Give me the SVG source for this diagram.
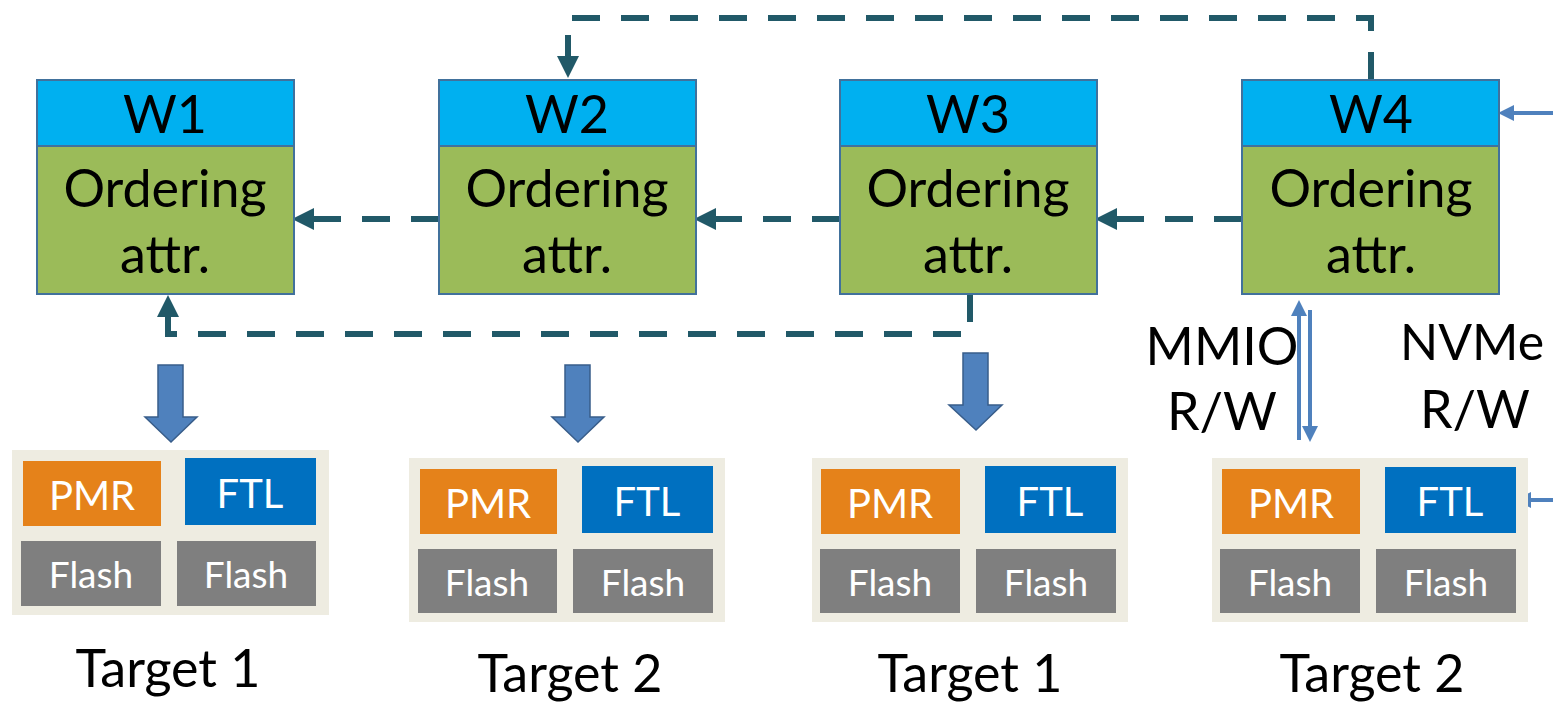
<svg xmlns="http://www.w3.org/2000/svg" width="1553" height="705" viewBox="0 0 1553 705">
<style>
text{font-family:Lato,"Open Sans","Liberation Sans",sans-serif;text-anchor:middle}
.hd{fill:#00B0F0;stroke:#41719C;stroke-width:2}
.bd{fill:#9BBB59;stroke:#41719C;stroke-width:2}
.wt{font-size:52px;fill:#000}
.bg{fill:#EEECE1}
.pmr{fill:#E5821A}
.ftl{fill:#0070C0}
.fl{fill:#7F7F7F}
.wl{fill:#fff;font-size:40px}
.fs{fill:#fff;font-size:37px}
.lbl{font-size:52px;fill:#000}
.dash{fill:none;stroke:#215968;stroke-width:6;stroke-dasharray:28 21}
.thin{fill:none;stroke:#4F81BD;stroke-width:4}
.blk{fill:#4F81BD;stroke:#385D8A;stroke-width:1.5}
</style>
<defs>
<marker id="ah" markerUnits="userSpaceOnUse" markerWidth="22" markerHeight="22" refX="0" refY="10" orient="auto" viewBox="0 0 20 20"><path d="M0,0 L20,10 L0,20 z" fill="#215968"/></marker>
<marker id="sa" markerUnits="userSpaceOnUse" markerWidth="16" markerHeight="16" refX="0" refY="7" orient="auto" viewBox="0 0 14 14"><path d="M0,0 L14,7 L0,14 z" fill="#4F81BD"/></marker>
</defs>
<g id="connectors">
<path class="dash" d="M439,219 H314" marker-end="url(#ah)"/>
<path class="dash" d="M840,219 H716" marker-end="url(#ah)"/>
<path class="dash" d="M1242,219 H1117" marker-end="url(#ah)"/>
<path class="dash" d="M1371,80 V18 H568 V56" marker-end="url(#ah)"/>
<path class="dash" d="M970,294 V334 H168 V317" marker-end="url(#ah)"/>
<path class="thin" d="M1299,440 V316" marker-end="url(#sa)"/>
<path class="thin" d="M1310,310 V426" marker-end="url(#sa)"/>
<path class="thin" d="M1553,113 H1514" marker-end="url(#sa)"/>
<path class="thin" d="M1553,500 H1531" marker-end="url(#sa)"/>
<path class="blk" d="M158,365 H183 V417 H197 L171,442 L145,417 H158 Z"/>
<path class="blk" d="M565,365 H590 V417 H604 L578,442 L552,417 H565 Z"/>
<path class="blk" d="M963,353 H988 V405 H1002 L976,430 L949,405 H963 Z"/>
</g>
<g id="W1">
<rect class="hd" x="37" y="80" width="257" height="66"/>
<rect class="bd" x="37" y="146" width="257" height="148"/>
<text class="wt" x="165" y="133">W1</text>
<text class="wt" x="165" y="207">Ordering</text>
<text class="wt" x="165" y="273">attr.</text>
</g>
<g id="W2">
<rect class="hd" x="439" y="80" width="257" height="66"/>
<rect class="bd" x="439" y="146" width="257" height="148"/>
<text class="wt" x="567" y="133">W2</text>
<text class="wt" x="567" y="207">Ordering</text>
<text class="wt" x="567" y="273">attr.</text>
</g>
<g id="W3">
<rect class="hd" x="840" y="80" width="257" height="66"/>
<rect class="bd" x="840" y="146" width="257" height="148"/>
<text class="wt" x="968" y="133">W3</text>
<text class="wt" x="968" y="207">Ordering</text>
<text class="wt" x="968" y="273">attr.</text>
</g>
<g id="W4">
<rect class="hd" x="1242" y="80" width="257" height="66"/>
<rect class="bd" x="1242" y="146" width="257" height="148"/>
<text class="wt" x="1371" y="133">W4</text>
<text class="wt" x="1371" y="207">Ordering</text>
<text class="wt" x="1371" y="273">attr.</text>
</g>
<g id="T1">
<rect class="bg" x="12" y="450" width="317" height="165"/>
<rect class="pmr" x="23" y="461" width="138" height="65"/>
<rect class="ftl" x="185" y="458" width="131" height="67"/>
<rect class="fl" x="21" y="541" width="140" height="65"/>
<rect class="fl" x="177" y="541" width="139" height="65"/>
<text class="wl" x="92" y="510">PMR</text>
<text class="wl" x="250" y="508">FTL</text>
<text class="fs" x="91" y="588">Flash</text>
<text class="fs" x="246" y="588">Flash</text>
<text class="lbl" x="168" y="687">Target 1</text>
</g>
<g id="T2">
<rect class="bg" x="409" y="458" width="316" height="164"/>
<rect class="pmr" x="420" y="469" width="137" height="65"/>
<rect class="ftl" x="582" y="466" width="131" height="67"/>
<rect class="fl" x="418" y="549" width="139" height="64"/>
<rect class="fl" x="573" y="549" width="140" height="64"/>
<text class="wl" x="488" y="518">PMR</text>
<text class="wl" x="647" y="516">FTL</text>
<text class="fs" x="487" y="596">Flash</text>
<text class="fs" x="643" y="596">Flash</text>
<text class="lbl" x="570" y="692">Target 2</text>
</g>
<g id="T3">
<rect class="bg" x="812" y="458" width="316" height="164"/>
<rect class="pmr" x="821" y="469" width="139" height="65"/>
<rect class="ftl" x="985" y="466" width="131" height="67"/>
<rect class="fl" x="820" y="549" width="140" height="64"/>
<rect class="fl" x="976" y="549" width="140" height="64"/>
<text class="wl" x="890" y="518">PMR</text>
<text class="wl" x="1050" y="516">FTL</text>
<text class="fs" x="890" y="596">Flash</text>
<text class="fs" x="1046" y="596">Flash</text>
<text class="lbl" x="970" y="692">Target 1</text>
</g>
<g id="T4">
<rect class="bg" x="1212" y="458" width="316" height="164"/>
<rect class="pmr" x="1222" y="469" width="138" height="65"/>
<rect class="ftl" x="1385" y="467" width="131" height="66"/>
<rect class="fl" x="1220" y="549" width="140" height="64"/>
<rect class="fl" x="1376" y="549" width="140" height="64"/>
<text class="wl" x="1291" y="518">PMR</text>
<text class="wl" x="1450" y="516">FTL</text>
<text class="fs" x="1290" y="596">Flash</text>
<text class="fs" x="1446" y="596">Flash</text>
<text class="lbl" x="1372" y="692">Target 2</text>
</g>
<g id="labels">
<text class="wt" x="1222" y="365">MMIO</text>
<text class="wt" x="1222" y="430">R/W</text>
<text class="wt" x="1472" y="360" style="font-size:50px">NVMe</text>
<text class="wt" x="1475" y="428">R/W</text>
</g>
</svg>
